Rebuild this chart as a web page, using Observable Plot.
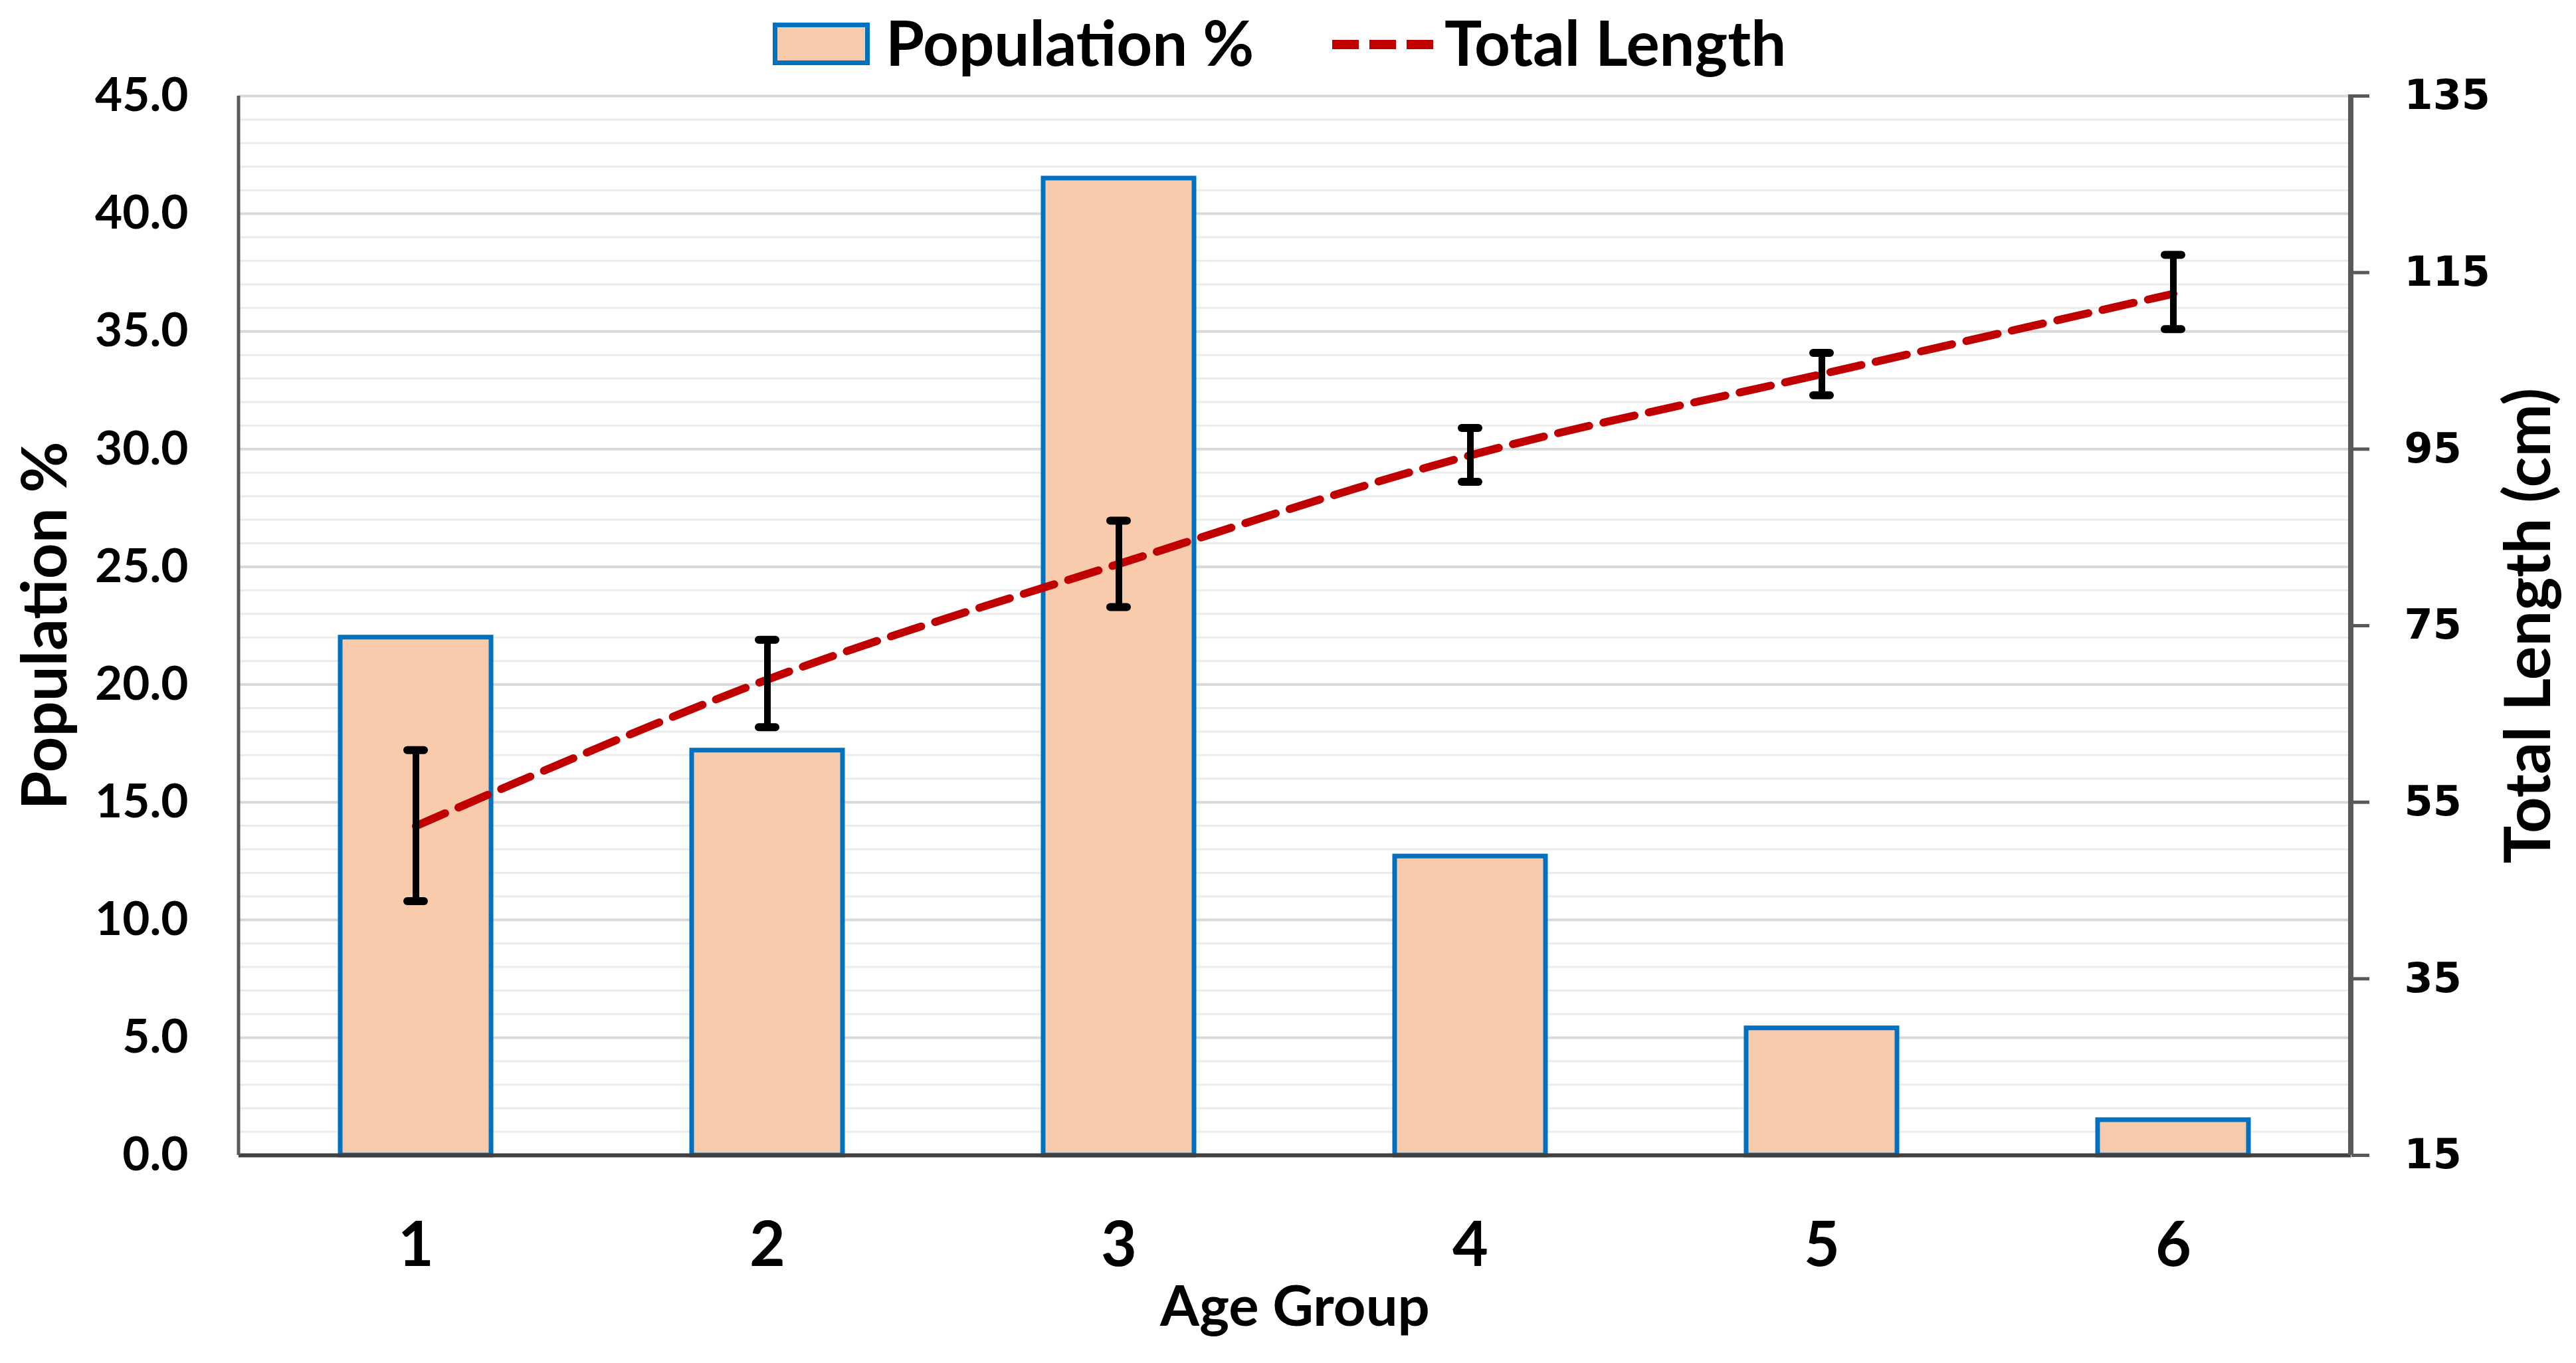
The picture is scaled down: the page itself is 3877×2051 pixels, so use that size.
<!DOCTYPE html>
<html>
<head>
<meta charset="utf-8">
<script src="https://cdn.jsdelivr.net/npm/d3@7"></script>
<script src="https://cdn.jsdelivr.net/npm/@observablehq/plot@0.6"></script>
<style>
  html, body { margin: 0; padding: 0; background: #fff; }
  #wrap { width: 3877px; }
  #legend { position: relative; width: 3877px; height: 120px; font-family: Lato, "Open Sans", sans-serif; font-weight: 700; color: #000; }
  #legend .sw1 { position: absolute; left: 1163px; top: 34px; width: 146px; height: 64px; box-sizing: border-box; border: 7px solid #0070C0; background: #F8CBAD; }
  #legend .t { position: absolute; font-size: 94px; line-height: 94px; white-space: nowrap; }
  #legend .sw2 { position: absolute; left: 2005px; top: 55px; }
</style>
</head>
<body>
<div id="wrap">
  <div id="legend">
    <div class="sw1"></div>
    <div class="t" id="lt1" style="left:1333px; top:16px;">Population %</div>
    <svg class="sw2" width="152" height="24"><line x1="0" y1="12" x2="152" y2="12" stroke="#C00000" stroke-width="14" stroke-dasharray="40,16"/></svg>
    <div class="t" id="lt2" style="left:2174px; top:16px;">Total Length</div>
  </div>
  <div id="chart"></div>
</div>
<script>
// ---- data ----
const groups = [1, 2, 3, 4, 5, 6];
const population = [22.0, 17.2, 41.5, 12.7, 5.4, 1.5];
const totalLength = [52.3, 68.9, 82.0, 94.3, 103.5, 112.6];
const lengthLow = [43.8, 63.5, 77.1, 91.3, 101.1, 108.6];
const lengthHigh = [60.9, 73.4, 86.9, 97.4, 105.9, 117.0];
const leftTicks = [0, 5, 10, 15, 20, 25, 30, 35, 40, 45];
const minorTicks = d3.range(0, 46, 1);
const rightTicks = [15, 35, 55, 75, 95, 115, 135];
const rightDomain = [15, 135];
const leftDomain = [0, 45];

// map right-axis values onto the left scale
const toLeft = v => (v - rightDomain[0]) * (leftDomain[1] - leftDomain[0]) / (rightDomain[1] - rightDomain[0]) + leftDomain[0];
const fromLeft = v => (v - leftDomain[0]) * (rightDomain[1] - rightDomain[0]) / (leftDomain[1] - leftDomain[0]) + rightDomain[0];

const data = groups.map((g, i) => ({
  group: g,
  pop: population[i],
  len: totalLength[i],
  lo: lengthLow[i],
  hi: lengthHigh[i]
}));

const W = 3877, H = 1931;
const font = "Lato, 'Open Sans', sans-serif";

const axisLines = (index, scales, values, dims) => {
  const g = d3.create("svg:g");
  const y0 = dims.marginTop, y1 = dims.height - dims.marginBottom;
  g.append("line").attr("x1", dims.marginLeft).attr("x2", dims.marginLeft)
    .attr("y1", y0).attr("y2", y1).attr("stroke", "#595959").attr("stroke-width", 5);
  const xr = dims.width - dims.marginRight;
  g.append("line").attr("x1", xr).attr("x2", xr)
    .attr("y1", y0 - 2).attr("y2", y1).attr("stroke", "#595959").attr("stroke-width", 8);
  return g.node();
};

const chart = Plot.plot({
  width: W,
  height: H,
  marginTop: 24,
  marginBottom: 313,
  marginLeft: 359,
  marginRight: 339,
  style: { fontFamily: font, background: "#fff", overflow: "visible" },
  x: { type: "band", domain: groups, paddingInner: 0.57, paddingOuter: 0.285, label: null },
  y: { domain: leftDomain, label: null },
  marks: [
    Plot.gridY(minorTicks, { stroke: "#ececec", strokeOpacity: 1, strokeWidth: 3 }),
    Plot.gridY(leftTicks, { stroke: "#d9d9d9", strokeOpacity: 1, strokeWidth: 4 }),
    Plot.barY(data, { x: "group", y: "pop", fill: "#F8CBAD", stroke: "#0070C0", strokeWidth: 7 }),
    Plot.ruleY([0], { stroke: "#404040", strokeWidth: 6 }),
    axisLines,
    Plot.axisY({
      anchor: "left", ticks: leftTicks, tickFormat: d3.format(".1f"), tickSize: 0, tickPadding: 76,
      fontSize: 71, fontWeight: 700, fontFamily: font, fill: "#000", label: null
    }),
    Plot.axisY({
      anchor: "right", ticks: rightTicks.map(toLeft), tickFormat: v => String(Math.round(fromLeft(v))),
      tickSize: 27, tickPadding: 53, stroke: "#595959", strokeWidth: 5, strokeOpacity: 1,
      fontSize: 62, fontWeight: 700, fontFamily: "'DejaVu Sans', sans-serif", fill: "#000", label: null
    }),
    Plot.axisX({
      anchor: "bottom", tickSize: 0, tickPadding: 100, fontSize: 93, fontWeight: 700, fontFamily: font,
      fill: "#000", label: null
    }),
    Plot.line(data, {
      x: "group", y: d => toLeft(d.len), stroke: "#C00000", strokeWidth: 12,
      strokeDasharray: "48,22", curve: "catmull-rom"
    }),
    Plot.ruleX(data, { x: "group", y1: d => toLeft(d.lo), y2: d => toLeft(d.hi), stroke: "#000", strokeWidth: 10 }),
    Plot.tickY(data, { x: "group", y: d => toLeft(d.lo), stroke: "#000", strokeWidth: 12, strokeLinecap: "round", insetLeft: 101, insetRight: 101 }),
    Plot.tickY(data, { x: "group", y: d => toLeft(d.hi), stroke: "#000", strokeWidth: 12, strokeLinecap: "round", insetLeft: 101, insetRight: 101 }),
    Plot.text(["Population %"], {
      frameAnchor: "left", textAnchor: "middle", dx: -290, rotate: -90, fontSize: 94, fontWeight: 700, fontFamily: font, fill: "#000"
    }),
    Plot.text(["Total Length (cm)"], {
      frameAnchor: "right", textAnchor: "middle", dx: 269, rotate: -90, fontSize: 95, fontWeight: 700, fontFamily: font, fill: "#000"
    }),
    Plot.text(["Age Group"], {
      frameAnchor: "bottom", dy: 256, fontSize: 85, fontWeight: 700, fontFamily: font, fill: "#000"
    })
  ]
});

document.getElementById("chart").appendChild(chart);
</script>
</body>
</html>
